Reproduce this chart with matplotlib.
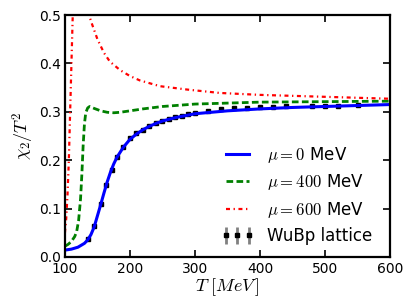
import matplotlib
matplotlib.use("Agg")
import matplotlib.pyplot as plt

# mu = 0 MeV
T_mu0   = [100, 110, 120, 130, 135, 140, 145, 150, 155, 160, 165, 170, 175, 180,
           190, 200, 210, 220, 230, 240, 250, 270, 300, 350, 400, 450, 500, 550, 600]
chi_mu0 = [0.014, 0.016, 0.020, 0.028, 0.035, 0.046, 0.062, 0.085, 0.108, 0.132,
           0.155, 0.175, 0.192, 0.206, 0.227, 0.243, 0.254, 0.263, 0.270, 0.276,
           0.281, 0.288, 0.296, 0.302, 0.306, 0.309, 0.311, 0.313, 0.315]

# mu = 400 MeV
T_mu400   = [100, 105, 110, 115, 118, 121, 124, 126, 128, 130, 132, 135, 138, 145,
             155, 165, 175, 185, 200, 220, 250, 300, 350, 400, 500, 600]
chi_mu400 = [0.022, 0.026, 0.032, 0.042, 0.052, 0.075, 0.120, 0.170, 0.230, 0.275,
             0.298, 0.308, 0.311, 0.307, 0.302, 0.299, 0.298, 0.299, 0.302, 0.306,
             0.311, 0.316, 0.318, 0.320, 0.321, 0.322]

# mu = 600 MeV (goes off the top between ~112 and ~137 MeV)
T_mu600   = [100, 102, 104, 106, 108, 110, 112, 114, 133, 137, 142, 150, 160, 169,
             185, 200, 215, 246, 288, 338, 400, 450, 500, 550, 600]
chi_mu600 = [0.050, 0.080, 0.130, 0.200, 0.300, 0.400, 0.500, 0.600, 0.560, 0.500,
             0.480, 0.450, 0.422, 0.404, 0.386, 0.374, 0.365, 0.353, 0.346, 0.339,
             0.335, 0.333, 0.331, 0.329, 0.327]

# WuBp lattice
T_lat   = [135, 145, 155, 163, 172, 180, 190, 200, 210, 220, 230, 240, 250, 260,
           270, 280, 290, 300, 320, 340, 360, 380, 400, 420, 440, 480, 500, 520, 550]
chi_lat = [0.037, 0.064, 0.109, 0.148, 0.180, 0.206, 0.228, 0.245, 0.256, 0.263,
           0.270, 0.276, 0.281, 0.285, 0.289, 0.292, 0.295, 0.298, 0.302, 0.305,
           0.307, 0.308, 0.309, 0.310, 0.311, 0.312, 0.313, 0.313, 0.314]
err_lat = [0.004] * len(T_lat)

plt.rcParams["mathtext.fontset"] = "cm"

fig = plt.figure(figsize=(4.11, 3.08), dpi=100)
ax = fig.add_axes([0.158, 0.166, 0.791, 0.785])

ax.plot(T_mu0, chi_mu0, color="b", lw=2.2, label=r"$\mu=0$ MeV")
ax.plot(T_mu400, chi_mu400, color="g", lw=2.0, ls=(0, (2.4, 1.2)),
        label=r"$\mu=400$ MeV")
ax.plot(T_mu600, chi_mu600, color="r", lw=1.6, ls=(0, (1.8, 1.6, 0.6, 1.6)),
        label=r"$\mu=600$ MeV")
ax.errorbar(T_lat, chi_lat, yerr=err_lat, fmt="s", color="k", ms=3.5,
            ecolor="0.5", elinewidth=2, capsize=0, label="WuBp lattice", zorder=1)

ax.set_xlim(100, 600)
ax.set_ylim(0, 0.5)
ax.set_xticks([100, 200, 300, 400, 500, 600])
ax.set_yticks([0.0, 0.1, 0.2, 0.3, 0.4, 0.5])
ax.tick_params(direction="in", top=True, right=True, length=5, width=1.2,
               labelsize=10)
ax.tick_params(axis="x", pad=4)
ax.tick_params(axis="y", pad=3)
for s in ax.spines.values():
    s.set_linewidth(1.6)

ax.set_xlabel(r"$T\ [MeV\,]$", fontsize=13, labelpad=0)
ax.set_ylabel(r"$\chi_2/T^2$", fontsize=13, labelpad=2)

ax.legend(loc="lower right", bbox_to_anchor=(0.982, 0.0), frameon=False,
          fontsize=12, numpoints=3, handlelength=2.0, borderaxespad=0.3,
          labelspacing=0.45)

fig.savefig("out.png", dpi=100)
